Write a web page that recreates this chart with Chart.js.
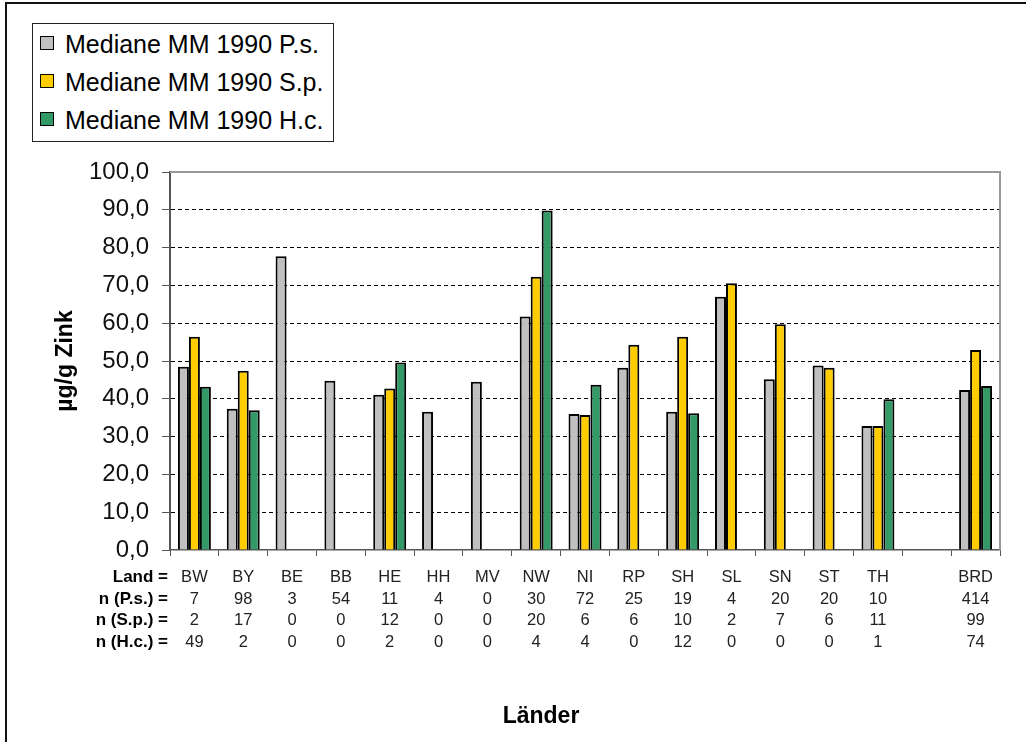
<!DOCTYPE html>
<html>
<head>
<meta charset="utf-8">
<script src="https://cdn.jsdelivr.net/npm/chart.js@4.4.1/dist/chart.umd.min.js"></script>
<style>
  html, body { margin: 0; padding: 0; background: #fff; overflow: hidden; }
  #wrap { position: relative; width: 1026px; height: 742px; }
  #frame { position: absolute; left: 5px; top: 2px; width: 2000px; height: 2000px;
           border-top: 2px solid #111; border-left: 2px solid #111; pointer-events: none; }
  #legend { position: absolute; left: 32px; top: 23px; width: 300px; height: 117px;
            border: 1px solid #222; background: #fff;
            font-family: "Liberation Sans", Arial, sans-serif; font-size: 25px; color: #000; }
  .li { position: absolute; left: 7px; height: 30px; line-height: 30px; white-space: nowrap; }
  .sw { position: absolute; left: 0; top: 7px; width: 12px; height: 12px; border: 1.5px solid #000; }
  .lt { position: absolute; left: 25px; top: 0; }
  #xtitle { position: absolute; left: 441px; width: 200px; top: 702px; text-align: center;
            font-family: "Liberation Sans", Arial, sans-serif; font-size: 23px; font-weight: bold; color: #000; }
  canvas { position: absolute; left: 0; top: 0; }
</style>
</head>
<body>
<div id="wrap">
  <canvas id="c" width="1026" height="742"></canvas>
  <div id="frame"></div>
  <div id="legend"></div>
  <div id="xtitle">Länder</div>
</div>
<script>
// ---- data ----
const lands = ['BW','BY','BE','BB','HE','HH','MV','NW','NI','RP','SH','SL','SN','ST','TH','','BRD'];
const nPs   = ['7','98','3','54','11','4','0','30','72','25','19','4','20','20','10','','414'];
const nSp   = ['2','17','0','0','12','0','0','20','6','6','10','2','7','6','11','','99'];
const nHc   = ['49','2','0','0','2','0','0','4','4','0','12','0','0','0','1','','74'];
const rowHeaders = ['Land =', 'n (P.s.) =', 'n (S.p.) =', 'n (H.c.) ='];

const seriesNames = ['Mediane MM 1990 P.s.', 'Mediane MM 1990 S.p.', 'Mediane MM 1990 H.c.'];
const valuesPs = [48.5, 37.4, 77.7, 44.8, 41.1, 36.6, 44.5, 61.8, 36.0, 48.2, 36.6, 67.0, 45.2, 48.8, 32.8, null, 42.3];
const valuesSp = [56.4, 47.4, null, null, 42.7, null, null, 72.3, 35.7, 54.3, 56.4, 70.6, 59.7, 48.2, 32.8, null, 52.9];
const valuesHc = [43.2, 37.0, null, null, 49.6, null, null, 89.8, 43.7, null, 36.2, null, null, null, 39.9, null, 43.4];
const yTickValues = [0,10,20,30,40,50,60,70,80,90,100];

const colors = ['#C0C0C0', '#FFCC00', '#339966'];

// ---- layout constants ----
const FONT = '"Liberation Sans", Arial, sans-serif';
const X_TICK_LEN = 6, X_TICK_PAD = 11, X_LINE_H = 21.5, X_FONT = 16.5, HEAD_FONT = 17;

const labels = lands.map((l, i) => [l, nPs[i], nSp[i], nHc[i]]);

const rowHeaderPlugin = {
  id: 'rowHeaders',
  afterDraw(chart) {
    const ctx = chart.ctx, xs = chart.scales.x;
    ctx.save();
    ctx.font = 'bold ' + HEAD_FONT + 'px ' + FONT;
    ctx.fillStyle = '#000';
    ctx.textAlign = 'right';
    ctx.textBaseline = 'middle';
    rowHeaders.forEach((t, i) => {
      ctx.fillText(t, xs.left - 2, xs.top + X_TICK_LEN + X_TICK_PAD + X_LINE_H / 2 + i * X_LINE_H);
    });
    ctx.restore();
  }
};

const frameLinePlugin = {
  id: 'frameLine',
  afterDatasetsDraw(chart) {
    const {ctx, chartArea: a} = chart;
    ctx.save();
    ctx.strokeStyle = '#999';
    ctx.lineWidth = 2;
    ctx.beginPath();
    ctx.moveTo(a.left, a.top);
    ctx.lineTo(a.right, a.top);
    ctx.lineTo(a.right, a.bottom);
    ctx.stroke();
    ctx.restore();
  }
};

const chart = new Chart(document.getElementById('c'), {
  type: 'bar',
  data: {
    labels: labels,
    datasets: [
      { label: seriesNames[0], data: valuesPs, backgroundColor: colors[0] },
      { label: seriesNames[1], data: valuesSp, backgroundColor: colors[1] },
      { label: seriesNames[2], data: valuesHc, backgroundColor: colors[2] }
    ].map(d => Object.assign(d, { borderColor: '#000', borderWidth: 2, borderSkipped: 'start',
                                  categoryPercentage: 0.675, barPercentage: 1.0 }))
  },
  options: {
    responsive: false,
    animation: false,
    layout: { padding: { top: 172, right: 26, left: 0, bottom: 0 } },
    plugins: { legend: { display: false }, tooltip: { enabled: false } },
    scales: {
      x: {
        offset: true,
        afterFit: s => { s.height = 192; },
        grid: { display: true, drawOnChartArea: false, drawTicks: true, offset: true,
                tickLength: X_TICK_LEN, tickColor: '#555', tickWidth: 1 },
        border: { display: true, color: '#555', width: 1.5 },
        ticks: { autoSkip: false, maxRotation: 0, minRotation: 0, padding: X_TICK_PAD,
                 color: '#222', font: { family: FONT, size: X_FONT, lineHeight: X_LINE_H / X_FONT } }
      },
      y: {
        min: 0, max: 100,
        afterFit: s => { s.width = 170; },
        afterBuildTicks: s => { s.ticks = yTickValues.map(v => ({ value: v })); },
        ticks: { stepSize: 10, padding: 13, color: '#111',
                 font: { family: FONT, size: 24 },
                 callback: v => v.toFixed(1).replace('.', ',') },
        grid: {
          drawTicks: true, tickLength: 8, tickColor: '#555', tickWidth: 1, lineWidth: 1,
          color: c => (c.tick && c.tick.value === 0) ? 'rgba(0,0,0,0)' : (c.tick && c.tick.value === 100 ? '#999' : '#000')
        },
        border: { display: true, color: '#555', width: 2,
                  dash: c => (c.tick && c.tick.value === 100) ? [] : [4, 3] },
        title: { display: true, text: 'µg/g Zink', color: '#000',
                 font: { family: FONT, size: 23, weight: 'bold' },
                 padding: { top: 52, bottom: 0 } }
      }
    }
  },
  plugins: [rowHeaderPlugin, frameLinePlugin]
});

// HTML legend built from the chart's datasets
const leg = document.getElementById('legend');
chart.data.datasets.forEach((ds, i) => {
  const item = document.createElement('div');
  item.className = 'li';
  item.style.top = (5 + i * 38) + 'px';
  const sw = document.createElement('span');
  sw.className = 'sw';
  sw.style.background = ds.backgroundColor;
  const tx = document.createElement('span');
  tx.className = 'lt';
  tx.textContent = ds.label;
  item.appendChild(sw); item.appendChild(tx);
  leg.appendChild(item);
});
</script>
</body>
</html>
